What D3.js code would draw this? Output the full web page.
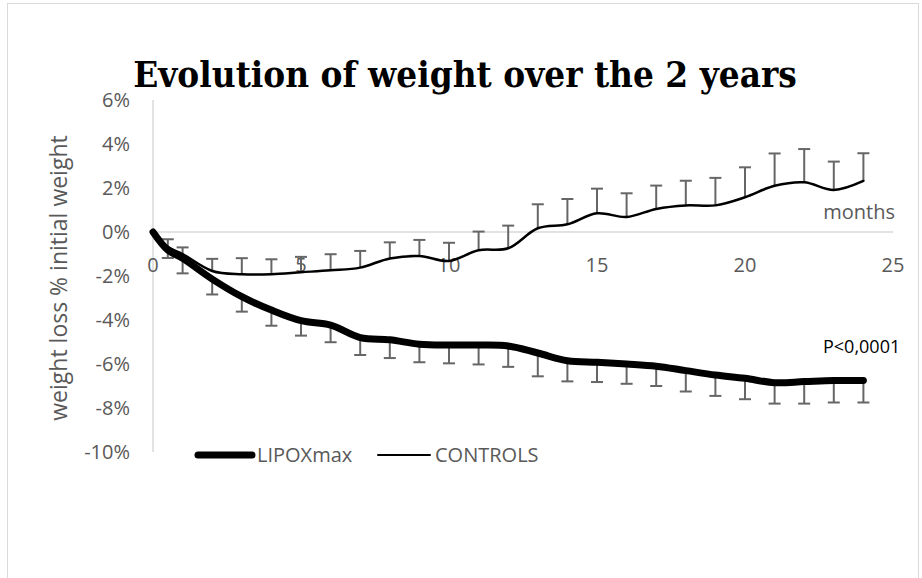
<!DOCTYPE html>
<html lang="en">
<head>
    <meta charset="UTF-8">
    <title>Evolution of weight over the 2 years</title>
    <script src="https://d3js.org/d3.v7.min.js"></script>
    <style>
        body { margin: 0; background: #fff; }
        .tick-label { fill: #595959; font-family: "Open Sans", sans-serif; font-size: 20px; }
        .err { stroke: #666; stroke-width: 2; }
    </style>
</head>
<body>
    <div id="container"></div>
    <script>
        const width = 922, height = 578;

        // months of follow-up (first visit at 2 weeks)
        const months = [0, 0.5, 1, 2, 3, 4, 5, 6, 7, 8, 9, 10, 11, 12, 13, 14, 15, 16, 17, 18, 19, 20, 21, 22, 23, 24];
        // weight change, % of initial weight
        const lipox = [0, -0.82, -1.2, -2.14, -2.94, -3.55, -4.03, -4.23, -4.8, -4.9, -5.1, -5.14, -5.14, -5.18, -5.5, -5.85, -5.92, -6.0, -6.1, -6.3, -6.5, -6.65, -6.85, -6.8, -6.75, -6.75];
        const lipoxErr = [0, 0.36, 0.68, 0.7, 0.68, 0.71, 0.68, 0.78, 0.79, 0.83, 0.82, 0.83, 0.88, 0.95, 1.06, 0.94, 0.9, 0.9, 0.9, 0.95, 0.95, 0.95, 0.95, 1.0, 1.0, 1.0];
        const controls = [0, -0.67, -1.0, -1.77, -1.92, -1.92, -1.83, -1.74, -1.62, -1.2, -1.09, -1.32, -0.83, -0.74, 0.17, 0.35, 0.85, 0.68, 1.05, 1.21, 1.21, 1.58, 2.1, 2.26, 1.91, 2.32];
        const controlsErr = [0, 0.34, 0.3, 0.55, 0.73, 0.68, 0.7, 0.73, 0.76, 0.73, 0.73, 0.83, 0.85, 1.03, 1.09, 1.15, 1.12, 1.08, 1.06, 1.12, 1.25, 1.36, 1.47, 1.51, 1.29, 1.26];

        const xTicks = [0, 5, 10, 15, 20, 25];
        const yTicks = [6, 4, 2, 0, -2, -4, -6, -8, -10];

        const svg = d3.select("#container").append("svg")
            .attr("width", width).attr("height", height);

        // chart frame
        svg.append("rect")
            .attr("x", 7.5).attr("y", 3.5)
            .attr("width", 911).attr("height", 590)
            .attr("fill", "#fff").attr("stroke", "#d9d9d9");

        const x = d3.scaleLinear().domain([0, 25]).range([153, 893]);
        const y = d3.scaleLinear().domain([-10, 6]).range([452, 100]);

        // title, sized to the reference width
        const title = svg.append("text")
            .attr("x", 465).attr("y", 87)
            .attr("text-anchor", "middle")
            .attr("font-family", "'DejaVu Serif', serif")
            .attr("font-weight", "bold")
            .attr("font-size", 34)
            .attr("fill", "#000")
            .text("Evolution of weight over the 2 years");
        const tw = title.node().getComputedTextLength();
        title.attr("font-size", 34 * 664 / tw)
            .attr("transform", "translate(0,87) scale(1,1.1) translate(0,-87)");

        // axis lines
        svg.append("line")
            .attr("x1", x(0)).attr("x2", x(0))
            .attr("y1", y(6)).attr("y2", y(-10))
            .attr("stroke", "#d9d9d9").attr("stroke-width", 1.5);
        svg.append("line")
            .attr("x1", x(0)).attr("x2", x(25))
            .attr("y1", y(0)).attr("y2", y(0))
            .attr("stroke", "#d9d9d9").attr("stroke-width", 1.5);

        // y tick labels
        svg.selectAll(".ytick").data(yTicks).enter().append("text")
            .attr("class", "tick-label")
            .attr("x", 130).attr("y", d => y(d))
            .attr("dy", "0.36em")
            .attr("text-anchor", "end")
            .text(d => d + "%");

        // x tick labels (sit just under the 0% line)
        svg.selectAll(".xtick").data(xTicks).enter().append("text")
            .attr("class", "tick-label")
            .attr("x", d => x(d)).attr("y", y(0) + 33)
            .attr("dy", "0.36em")
            .attr("text-anchor", "middle")
            .text(d => d);

        svg.append("text")
            .attr("class", "tick-label")
            .attr("x", 895).attr("y", 219)
            .attr("text-anchor", "end")
            .attr("font-size", 21)
            .text("months");

        // y axis title
        svg.append("text")
            .attr("transform", "translate(67,278) rotate(-90)")
            .attr("text-anchor", "middle")
            .attr("font-family", "'Open Sans', sans-serif")
            .attr("font-size", 23)
            .attr("fill", "#595959")
            .text("weight loss % initial weight");

        const cap = 6;
        function errorBars(vals, errs, sign) {
            const g = svg.append("g");
            months.forEach((m, i) => {
                if (!errs[i]) return;
                const y0 = y(vals[i]), y1 = y(vals[i] + sign * errs[i]);
                g.append("line").attr("class", "err")
                    .attr("x1", x(m)).attr("x2", x(m)).attr("y1", y0).attr("y2", y1);
                g.append("line").attr("class", "err")
                    .attr("x1", x(m) - cap).attr("x2", x(m) + cap).attr("y1", y1).attr("y2", y1)
                    .attr("stroke-width", sign < 0 ? 2.6 : 2);
            });
        }
        errorBars(lipox, lipoxErr, -1);
        errorBars(controls, controlsErr, 1);

        const line = vals => d3.line()
            .x((d, i) => x(months[i]))
            .y(d => y(d))
            .curve(d3.curveCatmullRom.alpha(0.5))(vals);

        svg.append("path").attr("d", line(controls))
            .attr("fill", "none").attr("stroke", "#000").attr("stroke-width", 2.5)
            .attr("stroke-linecap", "round");
        svg.append("path").attr("d", line(lipox))
            .attr("fill", "none").attr("stroke", "#000").attr("stroke-width", 7)
            .attr("stroke-linecap", "round").attr("stroke-linejoin", "round");

        svg.append("text")
            .attr("x", 823).attr("y", 353)
            .attr("font-family", "'Open Sans', sans-serif")
            .attr("font-size", 18)
            .attr("fill", "#000")
            .text("P<0,0001");

        // legend
        const legend = [
            { name: "LIPOXmax", x1: 198, x2: 252, w: 7 },
            { name: "CONTROLS", x1: 378, x2: 430, w: 2 }
        ];
        legend.forEach(l => {
            svg.append("line")
                .attr("x1", l.x1).attr("x2", l.x2).attr("y1", 455).attr("y2", 455)
                .attr("stroke", "#000").attr("stroke-width", l.w)
                .attr("stroke-linecap", "round");
            svg.append("text")
                .attr("x", l.x2 + 5).attr("y", 455)
                .attr("dy", "0.36em")
                .attr("font-family", "'Open Sans', sans-serif")
                .attr("font-size", 20)
                .attr("fill", "#595959")
                .text(l.name);
        });
    </script>
</body>
</html>
